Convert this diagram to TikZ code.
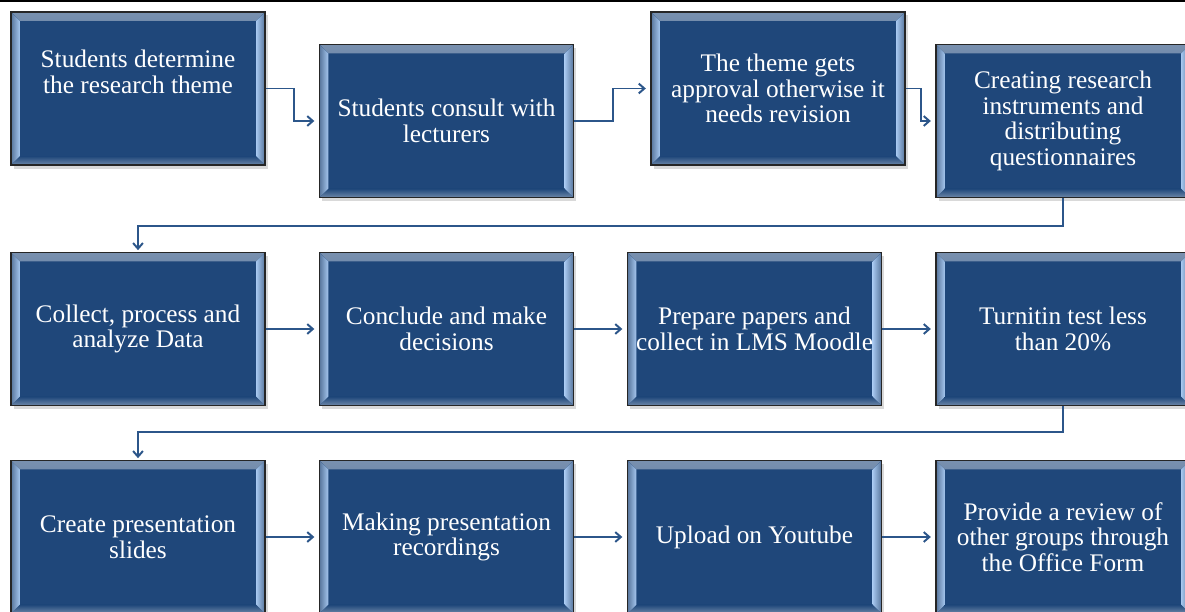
\documentclass[tikz,border=0pt]{standalone}
\usepackage{fontspec}
\setmainfont{Liberation Serif}
\usepackage{tikz}
\usetikzlibrary{arrows.meta, shadows, positioning}

\definecolor{boxblue}{RGB}{31,71,122}
\definecolor{bevellight}{RGB}{165,198,238}
\definecolor{flowblue}{RGB}{44,86,138}

\tikzset{
    stepbox/.style={draw=black!85, line width=1.3pt, fill=boxblue, text=white,
        minimum width=6.35cm, minimum height=3.825cm, align=center,
        font=\fontsize{18}{18.2}\selectfont,
        drop shadow={opacity=0.3, shadow xshift=2pt, shadow yshift=-2.5pt},
        path picture={
            % bevel strips on the four sides
            \fill[top color=boxblue!60!white, bottom color=boxblue]
                (path picture bounding box.north west) -- ++(0.22cm,-0.22cm)
                -- ([xshift=-0.22cm,yshift=-0.22cm]path picture bounding box.north east)
                -- (path picture bounding box.north east) -- cycle;
            \fill[top color=boxblue, bottom color=boxblue!65!white]
                (path picture bounding box.south west) -- ++(0.22cm,0.22cm)
                -- ([xshift=-0.22cm,yshift=0.22cm]path picture bounding box.south east)
                -- (path picture bounding box.south east) -- cycle;
            \fill[left color=boxblue!75!white, right color=bevellight]
                (path picture bounding box.north west) -- ++(0.22cm,-0.22cm)
                -- ([xshift=0.22cm,yshift=0.22cm]path picture bounding box.south west)
                -- (path picture bounding box.south west) -- cycle;
            \fill[left color=bevellight, right color=boxblue!75!white]
                (path picture bounding box.north east) -- ++(-0.22cm,-0.22cm)
                -- ([xshift=-0.22cm,yshift=0.22cm]path picture bounding box.south east)
                -- (path picture bounding box.south east) -- cycle;
        }},
    flow/.style={draw=flowblue, line width=1.4pt, -{Straight Barb[length=4pt,width=7pt]}}
}

\begin{document}
\begin{tikzpicture}[x=0.025cm, y=-0.025cm]
    \useasboundingbox (0,0) rectangle (1185,612);

    % 1. Rule at the top of the page
    \draw[line width=1.5pt] (0,1) -- (1185,1);

    % 2. First row (staggered boxes)
    \node[stepbox] (b1) at (138,88.5) {Students determine\\the research theme\\[6pt]\mbox{}};
    \node[stepbox] (b2) at (446.5,121) {Students consult with\\lecturers};
    \node[stepbox] (b3) at (778,88.5) {The theme gets\\approval otherwise it\\needs revision};
    \node[stepbox] (b4) at (1063,121) {Creating research\\instruments and\\distributing\\questionnaires};

    % 3. Second row
    \node[stepbox] (b5) at (138,329) {Collect, process and\\analyze Data};
    \node[stepbox] (b6) at (446.5,329) {Conclude and make\\decisions};
    \node[stepbox] (b7) at (754.5,329) {Prepare papers and\\collect in LMS Moodle};
    \node[stepbox] (b8) at (1063,329) {Turnitin test less\\than 20\%};

    % 4. Third row
    \node[stepbox] (b9) at (138,537) {Create presentation\\slides};
    \node[stepbox] (b10) at (446.5,537) {Making presentation\\recordings};
    \node[stepbox] (b11) at (754.5,537) {Upload on Youtube};
    \node[stepbox] (b12) at (1063,537) {Provide a review of\\other groups through\\the Office Form};

    % 5. Connectors
    \draw[flow, shorten >=3pt] (b1.east) -- ++(28,0) |- (b2.west);
    \draw[flow, shorten >=3pt] (b2.east) -- ++(39,0) |- (b3.west);
    \draw[flow, shorten >=3pt] (b3.east) -- ++(15,0) |- (b4.west);
    \draw[flow, shorten >=1pt] (b4.south) -- ++(0,28) -| (b5.north);
    \draw[flow, shorten >=3pt] (b5.east) -- (b6.west);
    \draw[flow, shorten >=3pt] (b6.east) -- (b7.west);
    \draw[flow, shorten >=3pt] (b7.east) -- (b8.west);
    \draw[flow, shorten >=1pt] (b8.south) -- ++(0,26) -| (b9.north);
    \draw[flow, shorten >=3pt] (b9.east) -- (b10.west);
    \draw[flow, shorten >=3pt] (b10.east) -- (b11.west);
    \draw[flow, shorten >=3pt] (b11.east) -- (b12.west);

\end{tikzpicture}
\end{document}
